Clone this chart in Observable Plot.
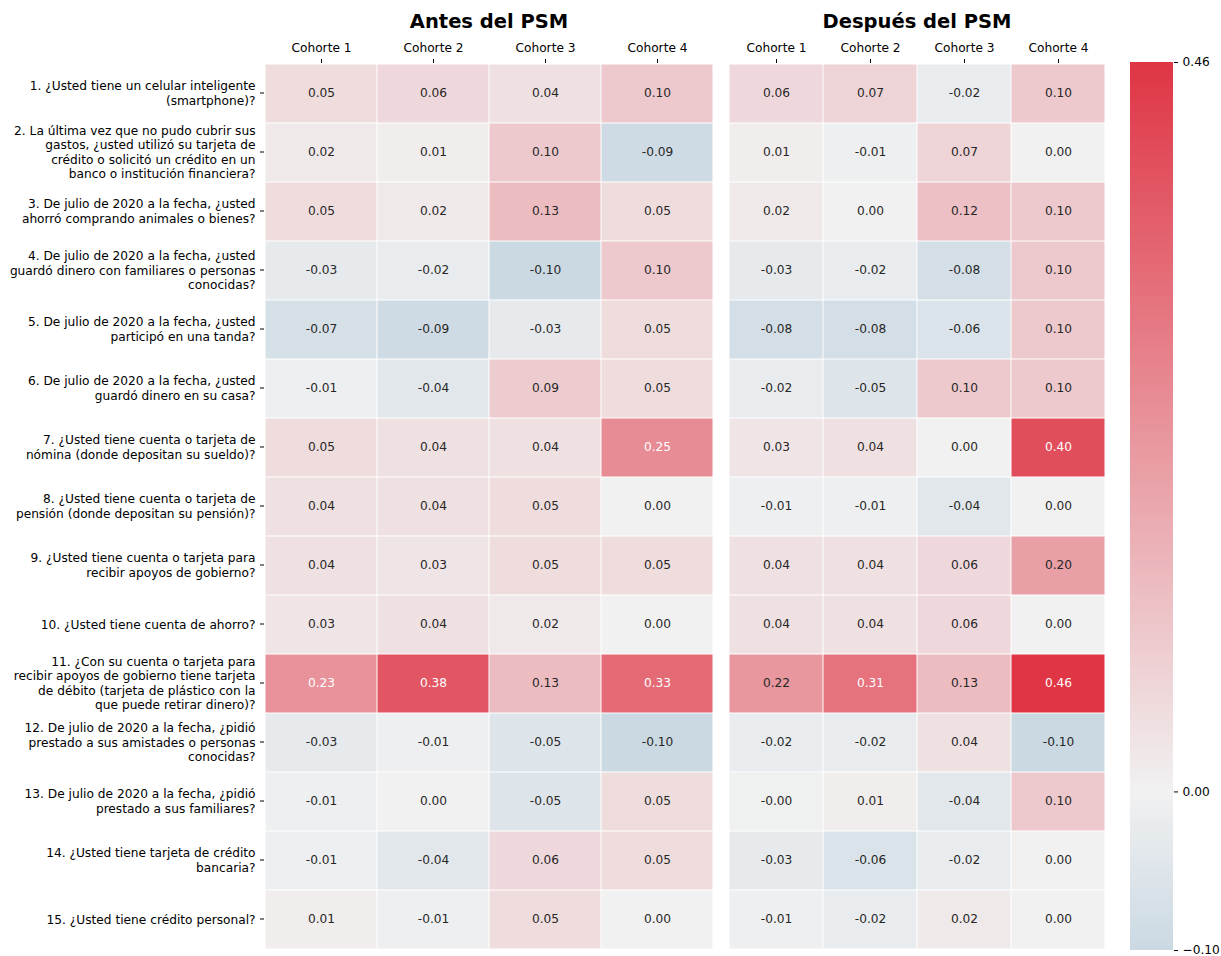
<!DOCTYPE html>
<html><head><meta charset="utf-8">
<script src="https://cdn.jsdelivr.net/npm/d3@7"></script>
<script src="https://cdn.jsdelivr.net/npm/@observablehq/plot@0.6"></script>
<style>
body{margin:0;background:#fff;font-family:"DejaVu Sans",sans-serif;}
#wrap{position:relative;width:1221px;height:956px;overflow:hidden;}
.panel{position:absolute;top:0;}
.title{position:absolute;font-weight:bold;font-size:19.5px;line-height:24px;white-space:nowrap;transform:translateX(-50%);top:10px;color:#000;}
</style></head><body><div id="wrap"></div>
<script>
const cohorts = ["Cohorte 1", "Cohorte 2", "Cohorte 3", "Cohorte 4"];
const questions = [
  "1. ¿Usted tiene un celular inteligente\n(smartphone)?",
  "2. La última vez que no pudo cubrir sus\ngastos, ¿usted utilizó su tarjeta de\ncrédito o solicitó un crédito en un\nbanco o institución financiera?",
  "3. De julio de 2020 a la fecha, ¿usted\nahorró comprando animales o bienes?",
  "4. De julio de 2020 a la fecha, ¿usted\nguardó dinero con familiares o personas\nconocidas?",
  "5. De julio de 2020 a la fecha, ¿usted\nparticipó en una tanda?",
  "6. De julio de 2020 a la fecha, ¿usted\nguardó dinero en su casa?",
  "7. ¿Usted tiene cuenta o tarjeta de\nnómina (donde depositan su sueldo)?",
  "8. ¿Usted tiene cuenta o tarjeta de\npensión (donde depositan su pensión)?",
  "9. ¿Usted tiene cuenta o tarjeta para\nrecibir apoyos de gobierno?",
  "10. ¿Usted tiene cuenta de ahorro?",
  "11. ¿Con su cuenta o tarjeta para\nrecibir apoyos de gobierno tiene tarjeta\nde débito (tarjeta de plástico con la\nque puede retirar dinero)?",
  "12. De julio de 2020 a la fecha, ¿pidió\nprestado a sus amistades o personas\nconocidas?",
  "13. De julio de 2020 a la fecha, ¿pidió\nprestado a sus familiares?",
  "14. ¿Usted tiene tarjeta de crédito\nbancaria?",
  "15. ¿Usted tiene crédito personal?"
];
const antes = [
  [0.05, 0.06, 0.04, 0.10],
  [0.02, 0.01, 0.10, -0.09],
  [0.05, 0.02, 0.13, 0.05],
  [-0.03, -0.02, -0.10, 0.10],
  [-0.07, -0.09, -0.03, 0.05],
  [-0.01, -0.04, 0.09, 0.05],
  [0.05, 0.04, 0.04, 0.25],
  [0.04, 0.04, 0.05, 0.00],
  [0.04, 0.03, 0.05, 0.05],
  [0.03, 0.04, 0.02, 0.00],
  [0.23, 0.38, 0.13, 0.33],
  [-0.03, -0.01, -0.05, -0.10],
  [-0.01, 0.00, -0.05, 0.05],
  [-0.01, -0.04, 0.06, 0.05],
  [0.01, -0.01, 0.05, 0.00]
];
const despues = [
  [0.06, 0.07, -0.02, 0.10],
  [0.01, -0.01, 0.07, 0.00],
  [0.02, 0.00, 0.12, 0.10],
  [-0.03, -0.02, -0.08, 0.10],
  [-0.08, -0.08, -0.06, 0.10],
  [-0.02, -0.05, 0.10, 0.10],
  [0.03, 0.04, 0.00, 0.40],
  [-0.01, -0.01, -0.04, 0.00],
  [0.04, 0.04, 0.06, 0.20],
  [0.04, 0.04, 0.06, 0.00],
  [0.22, 0.31, 0.13, 0.46],
  [-0.02, -0.02, 0.04, -0.10],
  [-0.004, 0.01, -0.04, 0.10],
  [-0.03, -0.06, -0.02, 0.00],
  [-0.01, -0.02, 0.02, 0.00]
];
const panelTitles = ["Antes del PSM", "Después del PSM"];
const colorbarTicks = [-0.10, 0.00, 0.46];
const colorDomain = [-0.10, 0.00, 0.46];
const colorRange = ["#cbd9e3", "#f1f1f1", "#df3545"];

const colorOpts = {type: "linear", domain: colorDomain, range: colorRange, clamp: true};
const fmt = v => v.toFixed(2);
const whiteThreshold = 0.225;
const font = {fontFamily: "DejaVu Sans", fontSize: "12.2px", color: "#000", background: "transparent", overflow: "visible"};

const wrap = document.getElementById("wrap");

function heat(values, width, marginLeft, showY) {
  const data = [];
  questions.forEach((q, i) => cohorts.forEach((c, j) => data.push({q, c, v: values[i][j]})));
  return Plot.plot({
    width, height: 956, marginTop: 62, marginBottom: 6, marginLeft, marginRight: 6,
    style: font,
    x: {domain: cohorts, padding: 0, axis: null},
    y: {domain: questions, padding: 0, axis: null},
    color: colorOpts,
    marks: [
      Plot.cell(data, {x: "c", y: "q", fill: "v", inset: 0.5}),
      Plot.text(data.filter(d => d.v < whiteThreshold), {x: "c", y: "q", text: d => fmt(d.v), fill: "#262626", fontSize: 12.2, dy: -1}),
      Plot.text(data.filter(d => d.v >= whiteThreshold), {x: "c", y: "q", text: d => fmt(d.v), fill: "white", fontSize: 12.2, dy: -1}),
      Plot.axisX({anchor: "top", tickSize: 4, tickPadding: 7, label: null, fontSize: 12.2}),
      showY ? Plot.axisY({anchor: "left", tickSize: 4, tickPadding: 5, label: null, fontSize: 12.2, lineHeight: 1.18, dy: -1}) : null
    ]
  });
}

function place(el, left) {
  const d = document.createElement("div");
  d.className = "panel";
  d.style.left = left + "px";
  d.appendChild(el);
  wrap.appendChild(d);
}

place(heat(antes, 720, 264, true), 0);
place(heat(despues, 398, 14, false), 714);

const step = 0.0005;
const ramp = d3.range(colorDomain[0], colorDomain[2], step);
const cbar = Plot.plot({
  width: 115, height: 956, marginTop: 62, marginBottom: 6, marginLeft: 24, marginRight: 48,
  style: font,
  y: {type: "linear", domain: [colorDomain[0], colorDomain[2]], axis: null},
  color: colorOpts,
  marks: [
    Plot.rect(ramp, {y1: d => d, y2: d => Math.min(d + step * 1.6, colorDomain[2]), fill: d => d, shapeRendering: "crispEdges"}),
    Plot.axisY({anchor: "right", ticks: colorbarTicks, tickFormat: d3.format(".2f"), tickSize: 4, tickPadding: 5, label: null, fontSize: 12.2})
  ]
});
place(cbar, 1106);

[[489, panelTitles[0]], [917, panelTitles[1]]].forEach(([x, t]) => {
  const d = document.createElement("div");
  d.className = "title";
  d.style.left = x + "px";
  d.textContent = t;
  wrap.appendChild(d);
});
</script>
</body></html>
